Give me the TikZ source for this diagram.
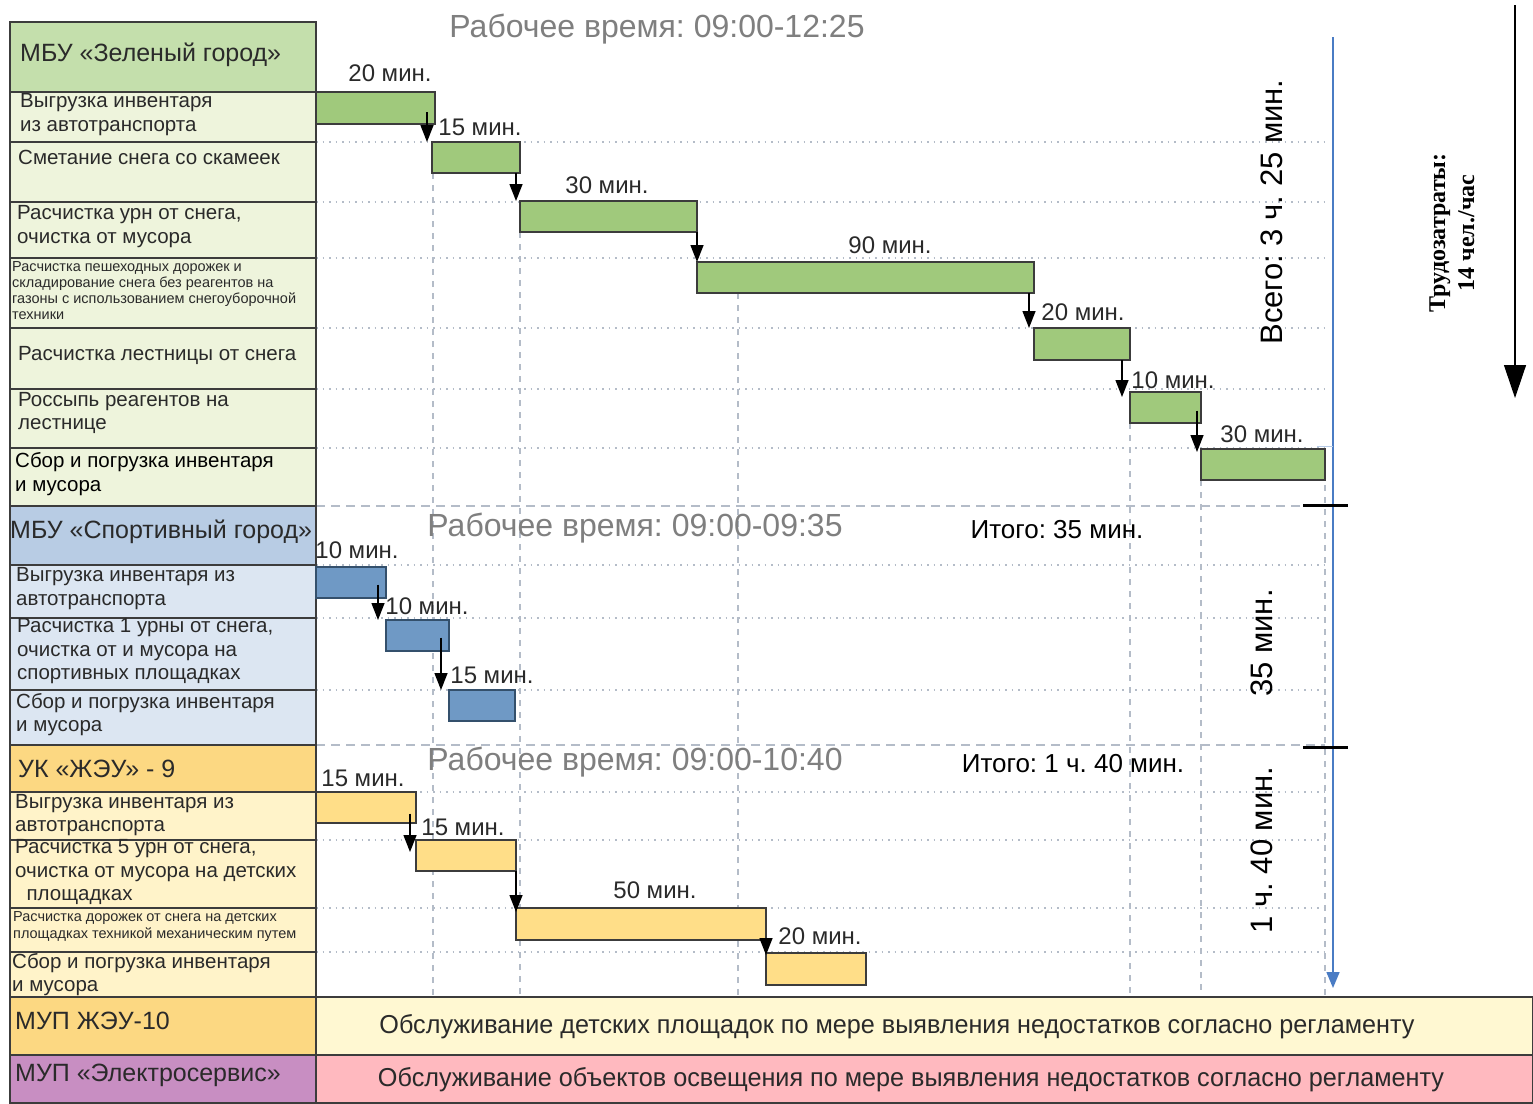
\documentclass[tikz,border=0pt]{standalone}
\usepackage{fontspec}
\setmainfont{Liberation Sans}
\newfontfamily\timesfont{Liberation Serif}
\usetikzlibrary{arrows.meta}
\frenchspacing

\definecolor{gHead}{HTML}{C4DFAC}
\definecolor{gRow}{HTML}{EEF4DC}
\definecolor{gBar}{HTML}{A0C97C}
\definecolor{bHead}{HTML}{B8CCE4}
\definecolor{bRow}{HTML}{DCE6F2}
\definecolor{bBar}{HTML}{6F99C5}
\definecolor{bEdge}{HTML}{34506C}
\definecolor{yHead}{HTML}{FCD882}
\definecolor{yRow}{HTML}{FFF3C9}
\definecolor{yBar}{HTML}{FFDE88}
\definecolor{creamBand}{HTML}{FFF8D2}
\definecolor{pHead}{HTML}{C88EC2}
\definecolor{pinkBand}{HTML}{FFB9BF}
\definecolor{gridc}{HTML}{B4BCC8}
\definecolor{edgec}{HTML}{3C3C3C}
\definecolor{axisblue}{HTML}{4A7CC4}
\definecolor{titlegray}{HTML}{7F7F7F}
\definecolor{txtc}{HTML}{2A2A2A}

\newcommand\cellrow[3]{\filldraw[fill=#1, draw=edgec, line width=1.5pt] (10,#2) rectangle (316,#3);}

\begin{document}
\begin{tikzpicture}[x=1pt,y=-1pt,
  rowtxt/.style={anchor=west, align=left, inner sep=0, text=txtc,
    font=\fontsize{20.5}{23.5}\selectfont},
  smalltxt/.style={anchor=west, align=left, inner sep=0, text=txtc,
    font=\fontsize{14.5}{16}\selectfont},
  headtxt/.style={anchor=west, inner sep=0, text=txtc,
    font=\fontsize{25}{28}\selectfont},
  bar/.style={draw=edgec, line width=1.6pt, anchor=north west, inner sep=0, outer sep=0},
  gbar/.style={bar, fill=gBar},
  bbar/.style={bar, fill=bBar, draw=bEdge},
  ybar/.style={bar, fill=yBar},
  durlbl/.style={inner sep=0, text=txtc, font=\fontsize{24}{26}\selectfont},
  worktitle/.style={inner sep=0, text=titlegray, font=\fontsize{32}{34}\selectfont},
  totaltxt/.style={inner sep=0, text=black, font=\fontsize{26}{28}\selectfont},
  vtotal/.style={inner sep=0, text=black, rotate=90, font=\fontsize{31}{34}\selectfont},
  flow/.style={line width=1.4pt, -{Triangle[width=13pt,length=17pt]}},
  hgrid/.style={gridc, line width=1.3pt, dash pattern=on 1.5pt off 5pt},
  hsep/.style={gridc, line width=1.3pt, dash pattern=on 9pt off 6pt},
  vgrid/.style={gridc, line width=1.6pt, dash pattern=on 6pt off 6pt},
  bandtxt/.style={inner sep=0, text=txtc}
]
\useasboundingbox (0,0) rectangle (1533,1103);
\fill[white] (0,0) rectangle (1533,1103);

% ---------- grid ----------
\foreach \yy in {142,202,258,328,389,448,565,618,690,792,840,908,952}
  \draw[hgrid] (316,\yy) -- (1325,\yy);
\draw[hsep] (316,506) -- (1325,506);
\draw[hsep] (316,745) -- (1325,745);
\draw[vgrid] (433,173) -- (433,997);
\draw[vgrid] (520,232) -- (520,997);
\draw[vgrid] (738,293) -- (738,997);
\draw[vgrid] (1130,423) -- (1130,997);
\draw[vgrid] (1201,480) -- (1201,997);
\draw[vgrid] (1325,449) -- (1325,997);

% ---------- left column ----------
\cellrow{gHead}{22}{92}
\cellrow{gRow}{92}{142}
\cellrow{gRow}{142}{202}
\cellrow{gRow}{202}{258}
\cellrow{gRow}{258}{328}
\cellrow{gRow}{328}{389}
\cellrow{gRow}{389}{448}
\cellrow{gRow}{448}{506}
\cellrow{bHead}{506}{565}
\cellrow{bRow}{565}{618}
\cellrow{bRow}{618}{690}
\cellrow{bRow}{690}{745}
\cellrow{yHead}{745}{792}
\cellrow{yRow}{792}{840}
\cellrow{yRow}{840}{908}
\cellrow{yRow}{908}{952}
\cellrow{yRow}{952}{997}
% bottom bands
\filldraw[fill=yHead, draw=edgec, line width=1.5pt] (10,997) rectangle (316,1055);
\filldraw[fill=creamBand, draw=edgec, line width=1.5pt] (316,997) rectangle (1533,1055);
\filldraw[fill=pHead, draw=edgec, line width=1.5pt] (10,1055) rectangle (316,1103);
\filldraw[fill=pinkBand, draw=edgec, line width=1.5pt] (316,1055) rectangle (1533,1103);
\draw[edgec, line width=2.5pt] (316,22) -- (316,1103);
\draw[edgec, line width=2pt] (316,997) -- (1533,997);

% texts of the left column
\node[headtxt] (hg) at (20,55) {МБУ «Зеленый город»};
\node[rowtxt] (r1) at (20,114.5) {Выгрузка инвентаря\\из автотранспорта};
\node[rowtxt] (r2) at (18,157) {Сметание снега со скамеек};
\node[rowtxt] (r3) at (17,226.5) {Расчистка урн от снега,\\очистка от мусора};
\node[smalltxt] (r4) at (12,291) {Расчистка пешеходных дорожек и\\складирование снега без реагентов на\\газоны с использованием снегоуборочной\\техники};
\node[rowtxt] (r5) at (18,355) {Расчистка лестницы от снега};
\node[rowtxt] (r6) at (18,413) {Россыпь реагентов на\\лестнице};
\node[rowtxt, text=black] (r7) at (15,474) {Сбор и погрузка инвентаря\\и мусора};

\node[headtxt] (hb) at (10,532) {МБУ «Спортивный город»};
\node[rowtxt] (s1) at (16,588.5) {Выгрузка инвентаря из\\автотранспорта};
\node[rowtxt] (s2) at (17,651.5) {Расчистка 1 урны от снега,\\очистка от и мусора на\\спортивных площадках};
\node[rowtxt] (s3) at (16,714.5) {Сбор и погрузка инвентаря\\и мусора};

\node[headtxt] (hy) at (18,769) {УК «ЖЭУ» - 9};
\node[rowtxt] (u1) at (15,815) {Выгрузка инвентаря из\\автотранспорта};
\node[rowtxt] (u2) at (15,872) {Расчистка 5 урн от снега,\\очистка от мусора на детских\\\ \ площадках};
\node[smalltxt, font=\fontsize{14.5}{17}\selectfont] (u3) at (13,926.5) {Расчистка дорожек от снега на детских\\площадках техникой механическим путем};
\node[rowtxt] (u4) at (12,974.5) {Сбор и погрузка инвентаря\\и мусора};

\node[headtxt] (hz) at (15,1021) {МУП ЖЭУ-10};
\node[headtxt] (he) at (15,1075) {МУП «Электросервис»};

\node[bandtxt] (bz) at (897,1027) {\resizebox{1035pt}{19pt}{\fontsize{24}{24}\selectfont Обслуживание детских площадок по мере выявления недостатков согласно регламенту}};
\node[bandtxt] (be) at (911,1080) {\resizebox{1066pt}{19pt}{\fontsize{24}{24}\selectfont Обслуживание объектов освещения по мере выявления недостатков согласно регламенту}};

% ---------- bars ----------
\node[gbar, minimum width=119, minimum height=32] (g1) at (316,92) {};
\node[gbar, minimum width=88, minimum height=31] (g2) at (432,142) {};
\node[gbar, minimum width=177, minimum height=31] (g3) at (520,201) {};
\node[gbar, minimum width=337, minimum height=31] (g4) at (697,262) {};
\node[gbar, minimum width=96, minimum height=32] (g5) at (1034,328) {};
\node[gbar, minimum width=71, minimum height=31] (g6) at (1130,392) {};
\node[gbar, minimum width=124, minimum height=31] (g7) at (1201,449) {};

\node[bbar, minimum width=70, minimum height=31] (b1) at (316,567) {};
\node[bbar, minimum width=63, minimum height=31] (b2) at (386,620) {};
\node[bbar, minimum width=66, minimum height=31] (b3) at (449,690) {};

\node[ybar, minimum width=100, minimum height=31] (y1) at (316,792) {};
\node[ybar, minimum width=100, minimum height=31] (y2) at (416,840) {};
\node[ybar, minimum width=250, minimum height=32] (y3) at (516,908) {};
\node[ybar, minimum width=100, minimum height=32] (y4) at (766,953) {};

% duration labels
\node[durlbl] (lg1) at (390,73) {20 мин.};
\node[durlbl] (lg2) at (480,127) {15 мин.};
\node[durlbl] (lg3) at (607,185) {30 мин.};
\node[durlbl] (lg4) at (890,245) {90 мин.};
\node[durlbl] (lg5) at (1083,312) {20 мин.};
\node[durlbl] (lg6) at (1173,380) {10 мин.};
\node[durlbl] (lg7) at (1262,434) {30 мин.};
\node[durlbl] (lb1) at (357,550) {10 мин.};
\node[durlbl] (lb2) at (427,606) {10 мин.};
\node[durlbl] (lb3) at (492,675) {15 мин.};
\node[durlbl] (ly1) at (363,778) {15 мин.};
\node[durlbl] (ly2) at (463,827) {15 мин.};
\node[durlbl] (ly3) at (655,890) {50 мин.};
\node[durlbl] (ly4) at (820,936) {20 мин.};

% flow arrows
\draw[flow] ([xshift=-8pt,yshift=-4pt]g1.east) -- ([xshift=-8pt]g1.east |- g2.north);
\draw[flow] ([xshift=-4pt]g2.south east) -- ([xshift=-4pt]g2.south east |- g3.north);
\draw[flow] (g3.south east) -- (g3.south east |- g4.north);
\draw[flow] ([xshift=-5pt]g4.south east) -- ([xshift=-5pt]g4.south east |- g5.north);
\draw[flow] ([xshift=-8pt]g5.south east) -- ([xshift=-8pt,yshift=-5pt]g5.south east |- g6.north);
\draw[flow] ([xshift=-4pt,yshift=-3pt]g6.east) -- ([xshift=-4pt,yshift=-3pt]g6.east |- g7.north);

\draw[flow] ([xshift=-8pt,yshift=-2pt]b1.east) -- ([xshift=-8pt]b1.east |- b2.north);
\draw[flow] ([xshift=-8pt,yshift=-2pt]b2.east) -- ([xshift=-8pt]b2.east |- b3.north);

\draw[flow] ([xshift=-6pt,yshift=-6pt]y1.east) -- ([xshift=-6pt,yshift=-12pt]y1.east |- y2.north);
\draw[flow] (y2.south east) -- ([yshift=-4pt]y2.south east |- y3.north);
\draw[flow] ([yshift=2pt]y3.south east) -- ([yshift=-2pt]y3.south east |- y4.north);

% ---------- titles ----------
\node[worktitle] (t1) at (657,29) {Рабочее время: 09:00-12:25};
\node[worktitle] (t2) at (635,528) {Рабочее время: 09:00-09:35};
\node[worktitle] (t3) at (635,762) {Рабочее время: 09:00-10:40};
\node[totaltxt] (i2) at (1057,530) {Итого: 35 мин.};
\node[totaltxt] (i3) at (1073,764) {Итого: 1 ч. 40 мин.};

\node[vtotal] (v1) at (1272,212) {Всего: 3 ч. 25 мин.};
\node[vtotal] (v2) at (1262,643) {35 мин.};
\node[vtotal] (v3) at (1262,850) {1 ч. 40 мин.};

% ---------- right axes ----------
\coordinate (ax0) at (1333,37);
\coordinate (ax1) at (1333,988);
\draw[axisblue, line width=1.6pt, -{Triangle[width=13pt,length=16pt]}] (ax0) -- (ax1);
\coordinate (sb0) at (1317,446);
\coordinate (sb1) at (1333,446);
\draw[axisblue!40, line width=1pt] (sb0) -- (sb1);
\coordinate (tk1a) at (1303,505);
\coordinate (tk1b) at (1348,505);
\coordinate (tk2a) at (1303,747);
\coordinate (tk2b) at (1348,747);
\draw[black, line width=3pt] (tk1a) -- (tk1b);
\draw[black, line width=3pt] (tk2a) -- (tk2b);

\coordinate (la0) at (1515,5);
\coordinate (la1) at (1515,398);
\draw[black, line width=1.2pt, -{Triangle[width=22pt,length=33pt]}] (la0) -- (la1);
\node[inner sep=0, rotate=90, align=center, font=\timesfont\bfseries\fontsize{24}{29}\selectfont] (labor) at (1452,233) {Трудозатраты:\\14 чел./час};
\end{tikzpicture}
\end{document}
